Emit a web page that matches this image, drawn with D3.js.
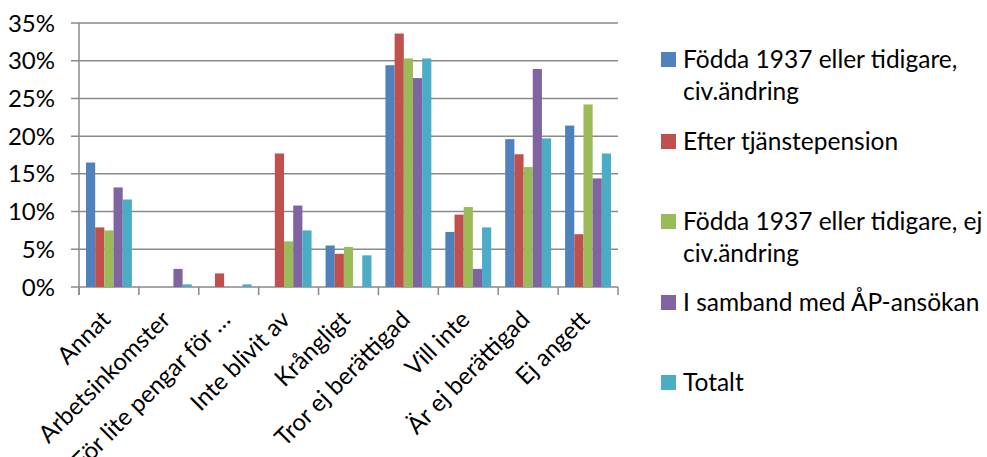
<!DOCTYPE html>
<html>
<head>
<meta charset="utf-8">
<script src="https://cdn.jsdelivr.net/npm/d3@7"></script>
<style>
  body { margin: 0; background: #fff; }
  svg { display: block; font-family: Lato, "Open Sans", sans-serif; }
</style>
</head>
<body>
<div id="chart"></div>
<script>
// kategorier och serier (andel, %)
const categories = ["Annat", "Arbetsinkomster", "För lite pengar för …", "Inte blivit av", "Krångligt",
  "Tror ej berättigad", "Vill inte", "Är ej berättigad", "Ej angett"];

const seriesNames = ["Födda 1937 eller tidigare, civ.ändring", "Efter tjänstepension",
  "Födda 1937 eller tidigare, ej civ.ändring", "I samband med ÅP-ansökan", "Totalt"];

const fodda1937Civ   = [16.5, 0,   0,   0,    5.5, 29.4, 7.3,  19.6, 21.4];
const efterTjanste   = [7.9,  0,   1.8, 17.7, 4.4, 33.6, 9.6,  17.6, 7.0];
const fodda1937EjCiv = [7.5,  0,   0,   6.05, 5.3, 30.3, 10.6, 15.9, 24.2];
const sambandAP      = [13.2, 2.4, 0,   10.8, 0,   27.7, 2.4,  28.9, 14.4];
const totalt         = [11.6, 0.35, 0.35, 7.5, 4.2, 30.3, 7.9, 19.7, 17.7];

const yTicks = [0, 5, 10, 15, 20, 25, 30, 35];

const colors = ["#4F81BD", "#C0504D", "#9BBB59", "#8064A2", "#4BACC6"];

const allSeries = [fodda1937Civ, efterTjanste, fodda1937EjCiv, sambandAP, totalt];

const width = 987, height = 457;
const plot = { left: 79, right: 618, top: 23, bottom: 287 };

const svg = d3.select("#chart").append("svg")
  .attr("width", width)
  .attr("height", height);

const x = d3.scaleBand()
  .domain(categories)
  .range([plot.left, plot.right])
  .paddingInner(0)
  .paddingOuter(0);

const x1 = d3.scaleBand()
  .domain(d3.range(seriesNames.length))
  .range([7, x.bandwidth() - 7])
  .padding(0);

const y = d3.scaleLinear()
  .domain([0, 35])
  .range([plot.bottom, plot.top]);

// rutnät
svg.append("g")
  .selectAll("line")
  .data(yTicks)
  .join("line")
  .attr("x1", plot.left - 8)
  .attr("x2", plot.right)
  .attr("y1", d => y(d))
  .attr("y2", d => y(d))
  .attr("stroke", "#8a8a8a")
  .attr("stroke-width", 1.5);

// y-axel etiketter
svg.append("g")
  .selectAll("text")
  .data(yTicks)
  .join("text")
  .attr("x", 55)
  .attr("y", d => y(d))
  .attr("dy", "0.36em")
  .attr("text-anchor", "end")
  .attr("font-size", 24)
  .attr("fill", "#000")
  .text(d => d + "%");

// staplar
const groups = svg.append("g")
  .selectAll("g")
  .data(categories)
  .join("g")
  .attr("transform", d => `translate(${x(d)},0)`);

groups.selectAll("rect")
  .data((c, ci) => allSeries.map((s, si) => ({ si, v: s[ci] })))
  .join("rect")
  .attr("x", d => x1(d.si))
  .attr("width", x1.bandwidth())
  .attr("y", d => y(d.v))
  .attr("height", d => y(0) - y(d.v))
  .attr("fill", d => colors[d.si]);

// axlar
svg.append("line")
  .attr("x1", plot.left).attr("x2", plot.left)
  .attr("y1", plot.top).attr("y2", plot.bottom + 8)
  .attr("stroke", "#8a8a8a").attr("stroke-width", 1.5);

svg.append("g")
  .selectAll("line")
  .data(categories.map(c => x(c)).concat([plot.right]))
  .join("line")
  .attr("x1", d => d).attr("x2", d => d)
  .attr("y1", plot.bottom).attr("y2", plot.bottom + 8)
  .attr("stroke", "#8a8a8a").attr("stroke-width", 1.5);

// x-etiketter
svg.append("g")
  .selectAll("text")
  .data(categories)
  .join("text")
  .attr("transform", d => `translate(${x(d) + x.bandwidth() / 2 + 3},${plot.bottom + 34}) rotate(-45)`)
  .attr("text-anchor", "end")
  .attr("font-size", 24)
  .attr("fill", "#000")
  .text(d => d);

// förklaring
const legendRows = [
  { lines: ["Födda 1937 eller tidigare,", "civ.ändring"], y: 52 },
  { lines: ["Efter tjänstepension"], y: 134 },
  { lines: ["Födda 1937 eller tidigare, ej", "civ.ändring"], y: 214 },
  { lines: ["I samband med ÅP-ansökan"], y: 295 },
  { lines: ["Totalt"], y: 375 }
];

const legend = svg.append("g")
  .selectAll("g")
  .data(legendRows)
  .join("g")
  .attr("transform", d => `translate(661,${d.y})`);

legend.append("rect")
  .attr("width", 15)
  .attr("height", 15)
  .attr("fill", (d, i) => colors[i]);

legend.append("text")
  .attr("font-size", 24.5)
  .attr("fill", "#000")
  .selectAll("tspan")
  .data(d => d.lines)
  .join("tspan")
  .attr("x", 22)
  .attr("y", (d, i) => 16 + i * 32)
  .text(d => d);
</script>
</body>
</html>
